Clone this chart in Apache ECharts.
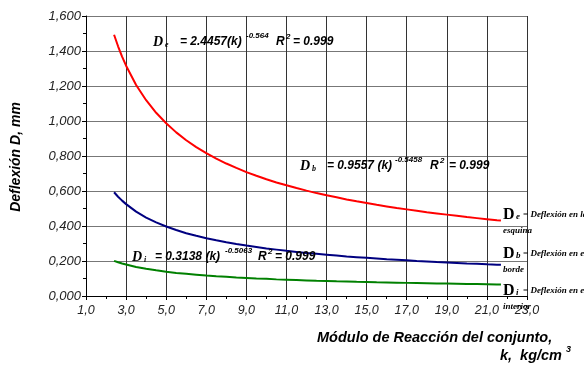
<!DOCTYPE html>
<html>
<head>
<meta charset="utf-8">
<script src="https://cdn.jsdelivr.net/npm/echarts@6/dist/echarts.min.js"></script>
<style>html,body{margin:0;padding:0;background:#fff}#c{width:584px;height:366px}</style>
</head>
<body>
<div id="c"></div>
<script>
// k, kg/cm3
var kValues = [2.4, 2.6, 2.8, 3, 3.5, 4, 4.5, 5, 5.5, 6, 6.5, 7, 7.5, 8, 8.5, 9, 9.5, 10, 10.5, 11, 11.5, 12, 12.5, 13, 13.5, 14, 14.5, 15, 15.5, 16, 16.5, 17, 17.5, 18, 18.5, 19, 19.5, 20, 20.5, 21, 21.5, 21.7];
// Deflexión en la esquina (De)
var deflexionEsquina = [1.493, 1.427, 1.368, 1.316, 1.206, 1.119, 1.047, 0.987, 0.935, 0.890, 0.851, 0.816, 0.785, 0.757, 0.732, 0.708, 0.687, 0.667, 0.649, 0.633, 0.617, 0.602, 0.588, 0.576, 0.564, 0.552, 0.541, 0.531, 0.521, 0.512, 0.503, 0.495, 0.487, 0.479, 0.472, 0.465, 0.458, 0.451, 0.445, 0.439, 0.433, 0.431];
// Deflexión en el borde (Db)
var deflexionBorde = [0.593, 0.567, 0.545, 0.525, 0.482, 0.448, 0.421, 0.397, 0.377, 0.359, 0.344, 0.330, 0.318, 0.307, 0.297, 0.288, 0.280, 0.272, 0.265, 0.258, 0.252, 0.246, 0.241, 0.236, 0.231, 0.226, 0.222, 0.218, 0.214, 0.210, 0.207, 0.204, 0.200, 0.197, 0.194, 0.192, 0.189, 0.186, 0.184, 0.181, 0.179, 0.178];
// Deflexión en el interior (Di)
var deflexionInterior = [0.201, 0.193, 0.186, 0.180, 0.166, 0.156, 0.147, 0.139, 0.132, 0.127, 0.122, 0.117, 0.113, 0.110, 0.106, 0.103, 0.100, 0.098, 0.095, 0.093, 0.091, 0.089, 0.087, 0.086, 0.084, 0.083, 0.081, 0.080, 0.078, 0.077, 0.076, 0.075, 0.074, 0.073, 0.072, 0.071, 0.070, 0.069, 0.068, 0.067, 0.066, 0.066];

var xMin = 1, xMax = 23, xStep = 2;
var yMin = 0, yMax = 1.6, yStep = 0.2;

function pairs(vals) { return kValues.map(function (k, i) { return [k, vals[i]]; }); }

var SANS = '"Liberation Sans", Arial, sans-serif';
var SERIF = '"Liberation Serif", "Times New Roman", serif';

function txt(x, y, text, size, family, weight, style, align, extra) {
  var o = {
    type: 'text', x: x, y: y, z: 100,
    style: {
      text: text, fill: '#000',
      fontSize: size, fontFamily: family, fontWeight: weight || 'bold', fontStyle: style || 'italic',
      textAlign: align || 'left', textVerticalAlign: 'middle', align: align || 'left', verticalAlign: 'middle'
    }
  };
  if (extra) { for (var p in extra) o[p] = extra[p]; }
  return o;
}

function equation(x0, y0, sub, body, bodyX, expo, expoX, rX, eqX) {
  return [
    txt(x0, y0, 'D', 14, SERIF),
    txt(x0 + 12, y0 + 3, sub, 8, SERIF),
    txt(bodyX, y0, body, 12, SANS),
    txt(expoX, y0 - 6, expo, 8, SANS),
    txt(rX, y0, 'R', 12, SANS),
    txt(rX + 10, y0 - 5, '2', 8, SANS),
    txt(eqX, y0, '= 0.999', 12, SANS)
  ];
}

function legendNote(y0, sub, line1, line2) {
  return [
    txt(503, y0, 'D', 16, SERIF, 'bold', 'normal'),
    txt(516, y0 + 2, sub, 9, SERIF),
    txt(523, y0, '= ' + line1, 9, SERIF),
    txt(503, y0 + 16, line2, 9, SERIF)
  ];
}

var graphics = [].concat(
  equation(153, 42, 'e', '= 2.4457(k)', 180, '-0.564', 246, 276, 293),
  equation(300, 166, 'b', '= 0.9557 (k)', 327, '-0.5458', 395, 430, 449),
  equation(132, 257, 'i', '= 0.3138 (k)', 155, '-0.5063', 225, 258, 275),
  legendNote(215, 'e', 'Deflexión en la', 'esquina'),
  legendNote(254, 'b', 'Deflexión en el', 'borde'),
  legendNote(291, 'i', 'Deflexión en el', 'interior'),
  [
    txt(16, 157, 'Deflexión D, mm', 14, SANS, 'bold', 'italic', 'center', { rotation: Math.PI / 2 }),
    txt(317, 338, 'Módulo de Reacción del conjunto,', 14.5, SANS),
    txt(562, 356, 'k,  kg/cm', 14.5, SANS, 'bold', 'italic', 'right'),
    txt(566, 350, '3', 9, SANS)
  ]
);

var chart = echarts.init(document.getElementById('c'), null, { renderer: 'canvas' });
chart.setOption({
  animation: false,
  backgroundColor: '#fff',
  grid: { left: 86, right: 57, top: 16, bottom: 70, containLabel: false },
  xAxis: {
    type: 'value', min: xMin, max: xMax, interval: xStep,
    axisLine: { show: true, onZero: false, lineStyle: { color: '#000', width: 1 } },
    axisTick: { show: true, inside: false, length: 4, lineStyle: { color: '#000' } },
    minorTick: { show: true, splitNumber: 2, length: 3, lineStyle: { color: '#000' } },
    splitLine: { show: true, lineStyle: { color: '#333', width: 1 } },
    axisLabel: {
      color: '#222', fontSize: 12.5, fontStyle: 'italic', fontFamily: SANS, margin: 8,
      formatter: function (v) { return v.toFixed(1).replace('.', ','); }
    }
  },
  yAxis: {
    type: 'value', min: yMin, max: yMax, interval: yStep,
    axisLine: { show: true, onZero: false, lineStyle: { color: '#000', width: 1 } },
    axisTick: { show: true, inside: false, length: 4, lineStyle: { color: '#000' } },
    minorTick: { show: true, splitNumber: 2, length: 3, lineStyle: { color: '#000' } },
    splitLine: { show: true, lineStyle: { color: '#777', width: 1 } },
    axisLabel: {
      color: '#222', fontSize: 13, fontStyle: 'italic', fontFamily: SANS, margin: 5,
      formatter: function (v) { return v.toFixed(3).replace('.', ','); }
    }
  },
  series: [
    { name: 'De', type: 'line', data: pairs(deflexionEsquina), showSymbol: false, symbol: 'none',
      lineStyle: { color: '#ff0000', width: 2 }, itemStyle: { color: '#ff0000' } },
    { name: 'Db', type: 'line', data: pairs(deflexionBorde), showSymbol: false, symbol: 'none',
      lineStyle: { color: '#000080', width: 2 }, itemStyle: { color: '#000080' } },
    { name: 'Di', type: 'line', data: pairs(deflexionInterior), showSymbol: false, symbol: 'none',
      lineStyle: { color: '#008000', width: 2 }, itemStyle: { color: '#008000' } }
  ],
  graphic: graphics
});
</script>
</body>
</html>
